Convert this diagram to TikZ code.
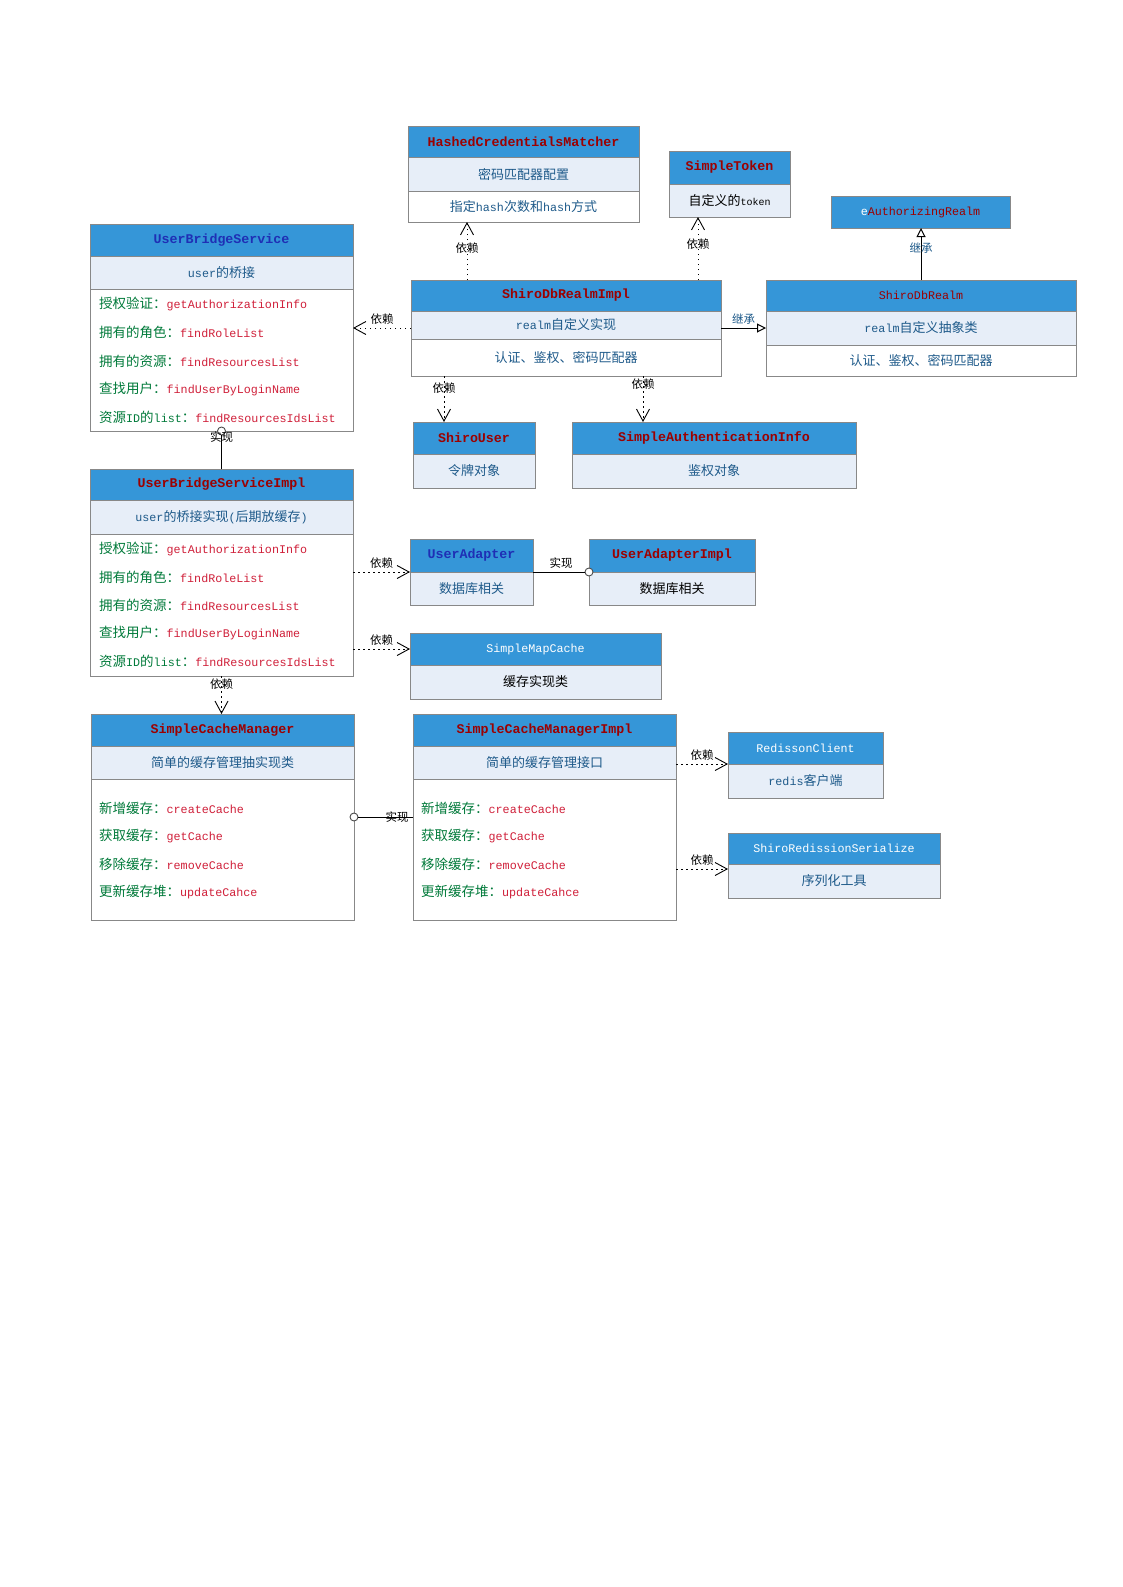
\documentclass[tikz,border=0pt]{standalone}
\usepackage{fontspec}
\setmainfont{Liberation Mono}
\newfontfamily\zhfont{Noto Sans CJK SC}
\usetikzlibrary{arrows.meta}
\definecolor{hdrblue}{HTML}{3596D8}
\definecolor{subfill}{HTML}{E7EEF8}
\definecolor{bgray}{HTML}{888888}
\definecolor{dred}{HTML}{9C0000}
\definecolor{tblue}{HTML}{1F2FB5}
\definecolor{subtext}{HTML}{1E5A8A}
\definecolor{mgreen}{HTML}{007A3A}
\definecolor{mred}{HTML}{D0203A}
\newcommand\ZH[1]{{\zhfont\fontsize{13}{15}\selectfont #1}}
\newcommand\ZM[1]{{\zhfont\fontsize{13.5}{15}\selectfont #1}}
\newcommand\ZL[1]{{\zhfont\fontsize{11.5}{13}\selectfont #1}}
\newcommand\MT[2]{{\color{mgreen}#1}{\color{mred}#2}}
\begin{document}
\begin{tikzpicture}[x=1pt,y=-1pt,
  part/.style={draw=bgray, line width=1pt, anchor=north west, inner sep=0pt, outer sep=0pt, font=\fontsize{11.7}{14}\selectfont},
  hdr/.style={part, fill=hdrblue},
  sub/.style={part, fill=subfill, text=subtext},
  bdy/.style={part, fill=white, text=subtext},
  bt/.style={font=\fontsize{13.3}{15}\selectfont\bfseries},
  meth/.style={anchor=west, inner sep=0pt, font=\fontsize{11.7}{14}\selectfont},
  lbl/.style={inner sep=1pt, text=black},
  dep/.style={draw=black, line width=0.9pt, dash pattern=on 1.5pt off 3.5pt, -{Straight Barb[length=12pt,width=13pt,line width=0.9pt]}},
  inh/.style={draw=black, line width=1pt, -{Triangle[open,length=9pt,width=9pt,fill=white]}},
  real/.style={draw=black, line width=1pt},
  ring/.style={draw=black!70, line width=0.9pt, fill=white}
]
\fill[white] (0,0) rectangle (1123,1587);
\useasboundingbox (0,0) rectangle (1123,1587);

% HashedCredentialsMatcher
\node[hdr,bt,text=dred,minimum width=231pt,minimum height=31pt] (hcm-h) at (408,126) {HashedCredentialsMatcher};
\node[sub,minimum width=231pt,minimum height=34pt] (hcm-s) at (408,157) {\ZH{密码匹配器配置}};
\node[bdy,minimum width=231pt,minimum height=31pt] (hcm-b) at (408,191) {\ZH{指定}hash\ZH{次数和}hash\ZH{方式}};

% SimpleToken
\node[hdr,bt,text=dred,minimum width=121pt,minimum height=33pt] (st-h) at (669,151) {SimpleToken};
\node[sub,text=black,minimum width=121pt,minimum height=33pt] (st-s) at (669,184) {\ZH{自定义的}{\fontsize{10}{12}\selectfont token}};

% eAuthorizingRealm
\node[hdr,text=dred,minimum width=179pt,minimum height=32pt] (ar-h) at (831,196) {{\color{white}e}AuthorizingRealm};

% UserBridgeService
\node[hdr,bt,text=tblue,minimum width=263pt,minimum height=32pt] (ubs-h) at (90,224) {UserBridgeService};
\node[sub,minimum width=263pt,minimum height=33pt] (ubs-s) at (90,256) {user\ZH{的桥接}};
\node[bdy,minimum width=263pt,minimum height=142pt] (ubs-b) at (90,289) {};
\node[meth] (ubs-m1) at (99,304) {\MT{\ZM{授权验证：}}{getAuthorizationInfo}};
\node[meth] (ubs-m2) at (99,332) {\MT{\ZM{拥有的角色：}}{findRoleList}};
\node[meth] (ubs-m3) at (99,361) {\MT{\ZM{拥有的资源：}}{findResourcesList}};
\node[meth] (ubs-m4) at (99,389) {\MT{\ZM{查找用户：}}{findUserByLoginName}};
\node[meth] (ubs-m5) at (99,417) {\MT{\ZM{资源}ID\ZM{的}list\ZM{：}}{findResourcesIdsList}};

% ShiroDbRealmImpl
\node[hdr,bt,text=dred,minimum width=310pt,minimum height=31pt] (sdri-h) at (411,280) {ShiroDbRealmImpl};
\node[sub,minimum width=310pt,minimum height=28pt] (sdri-s) at (411,311) {realm\ZH{自定义实现}};
\node[bdy,minimum width=310pt,minimum height=37pt] (sdri-b) at (411,339) {\ZH{认证、鉴权、密码匹配器}};

% ShiroDbRealm
\node[hdr,text=dred,minimum width=310pt,minimum height=31pt] (sdr-h) at (766,280) {ShiroDbRealm};
\node[sub,minimum width=310pt,minimum height=34pt] (sdr-s) at (766,311) {realm\ZH{自定义抽象类}};
\node[bdy,minimum width=310pt,minimum height=31pt] (sdr-b) at (766,345) {\ZH{认证、鉴权、密码匹配器}};

% ShiroUser
\node[hdr,bt,text=dred,minimum width=122pt,minimum height=32pt] (su-h) at (413,422) {ShiroUser};
\node[sub,minimum width=122pt,minimum height=34pt] (su-s) at (413,454) {\ZH{令牌对象}};

% SimpleAuthenticationInfo
\node[hdr,bt,text=dred,minimum width=284pt,minimum height=32pt] (sai-h) at (572,422) {SimpleAuthenticationInfo};
\node[sub,minimum width=284pt,minimum height=34pt] (sai-s) at (572,454) {\ZH{鉴权对象}};

% UserBridgeServiceImpl
\node[hdr,bt,text=dred,minimum width=263pt,minimum height=31pt] (ubsi-h) at (90,469) {UserBridgeServiceImpl};
\node[sub,minimum width=263pt,minimum height=34pt] (ubsi-s) at (90,500) {user\ZH{的桥接实现}(\ZH{后期放缓存})};
\node[bdy,minimum width=263pt,minimum height=142pt] (ubsi-b) at (90,534) {};
\node[meth] (ubsi-m1) at (99,549) {\MT{\ZM{授权验证：}}{getAuthorizationInfo}};
\node[meth] (ubsi-m2) at (99,577) {\MT{\ZM{拥有的角色：}}{findRoleList}};
\node[meth] (ubsi-m3) at (99,605) {\MT{\ZM{拥有的资源：}}{findResourcesList}};
\node[meth] (ubsi-m4) at (99,633) {\MT{\ZM{查找用户：}}{findUserByLoginName}};
\node[meth] (ubsi-m5) at (99,661) {\MT{\ZM{资源}ID\ZM{的}list\ZM{：}}{findResourcesIdsList}};

% UserAdapter
\node[hdr,bt,text=tblue,minimum width=123pt,minimum height=33pt] (ua-h) at (410,539) {UserAdapter};
\node[sub,minimum width=123pt,minimum height=33pt] (ua-s) at (410,572) {\ZH{数据库相关}};

% UserAdapterImpl
\node[hdr,bt,text=dred,minimum width=166pt,minimum height=33pt] (uai-h) at (589,539) {UserAdapterImpl};
\node[sub,text=black,minimum width=166pt,minimum height=33pt] (uai-s) at (589,572) {\ZH{数据库相关}};

% SimpleMapCache
\node[hdr,text=white,minimum width=251pt,minimum height=32pt] (smc-h) at (410,633) {SimpleMapCache};
\node[sub,text=black,minimum width=251pt,minimum height=34pt] (smc-s) at (410,665) {\ZH{缓存实现类}};

% SimpleCacheManager
\node[hdr,bt,text=dred,minimum width=263pt,minimum height=32pt] (scm-h) at (91,714) {SimpleCacheManager};
\node[sub,minimum width=263pt,minimum height=33pt] (scm-s) at (91,746) {\ZH{简单的缓存管理抽实现类}};
\node[bdy,minimum width=263pt,minimum height=141pt] (scm-b) at (91,779) {};
\node[meth] (scm-m1) at (99,808) {\MT{\ZM{新增缓存：}}{createCache}};
\node[meth] (scm-m2) at (99,836) {\MT{\ZM{获取缓存：}}{getCache}};
\node[meth] (scm-m3) at (99,864) {\MT{\ZM{移除缓存：}}{removeCache}};
\node[meth] (scm-m4) at (99,892) {\MT{\ZM{更新缓存堆：}}{updateCahce}};

% SimpleCacheManagerImpl
\node[hdr,bt,text=dred,minimum width=263pt,minimum height=32pt] (scmi-h) at (413,714) {SimpleCacheManagerImpl};
\node[sub,minimum width=263pt,minimum height=33pt] (scmi-s) at (413,746) {\ZH{简单的缓存管理接口}};
\node[bdy,minimum width=263pt,minimum height=141pt] (scmi-b) at (413,779) {};
\node[meth] (scmi-m1) at (421,808) {\MT{\ZM{新增缓存：}}{createCache}};
\node[meth] (scmi-m2) at (421,836) {\MT{\ZM{获取缓存：}}{getCache}};
\node[meth] (scmi-m3) at (421,864) {\MT{\ZM{移除缓存：}}{removeCache}};
\node[meth] (scmi-m4) at (421,892) {\MT{\ZM{更新缓存堆：}}{updateCahce}};

% RedissonClient
\node[hdr,text=white,minimum width=155pt,minimum height=32pt] (rc-h) at (728,732) {RedissonClient};
\node[sub,minimum width=155pt,minimum height=34pt] (rc-s) at (728,764) {redis\ZH{客户端}};

% ShiroRedissionSerialize
\node[hdr,text=white,minimum width=212pt,minimum height=31pt] (srs-h) at (728,833) {ShiroRedissionSerialize};
\node[sub,minimum width=212pt,minimum height=34pt] (srs-s) at (728,864) {\ZH{序列化工具}};

% ---------- connectors ----------
\coordinate (d1) at ([xshift=56pt]sdri-h.north west);
\draw[dep] (d1) -- node[lbl,pos=0.55]{\ZL{依赖}} (d1 |- hcm-b.south);
\coordinate (d2) at ([xshift=287pt]sdri-h.north west);
\draw[dep] (d2) -- node[lbl,pos=0.57]{\ZL{依赖}} (d2 |- st-s.south);
\draw[dep] (sdri-s.west |- sdr-s.west) -- node[lbl,above=2pt,midway]{\ZL{依赖}} (ubs-b.east |- sdr-s.west);
\draw[inh] (sdri-s.east |- sdr-s.west) -- node[lbl,above=2pt,midway,text=subtext]{\ZL{继承}} (sdr-s.west);
\draw[inh] (sdr-h.north) -- node[lbl,pos=0.62,text=subtext]{\ZL{继承}} (sdr-h.north |- ar-h.south);
\coordinate (d3) at ([xshift=33pt]sdri-b.south west);
\draw[dep] (d3) -- node[lbl,pos=0.26]{\ZL{依赖}} (d3 |- su-h.north);
\coordinate (d4) at ([xshift=232pt]sdri-b.south west);
\draw[dep] (d4) -- node[lbl,pos=0.17]{\ZL{依赖}} (d4 |- sai-h.north);

\draw[ring] (ubs-b.south) circle (4pt);
\draw[real,shorten >=4pt] (ubsi-h.north) -- node[lbl,pos=0.84]{\ZL{实现}} (ubs-b.south);

\draw[dep] (ubsi-b.east |- ua-h.south west) -- node[lbl,above=2pt,midway]{\ZL{依赖}} (ua-h.south west);
\draw[dep] (ubsi-b.east |- smc-h.west) -- node[lbl,above=2pt,midway]{\ZL{依赖}} (smc-h.west);
\draw[dep] (ubsi-b.south) -- node[lbl,pos=0.21]{\ZL{依赖}} (ubsi-b.south |- scm-h.north);

\draw[ring] (uai-h.south west) circle (4pt);
\draw[real,shorten >=4pt] (ua-h.south east) -- node[lbl,above=2pt,midway]{\ZL{实现}} (uai-h.south west);

\coordinate (r3) at ([yshift=-38pt]scm-b.north east);
\draw[ring] (r3) circle (4pt);
\draw[real,shorten <=4pt] (r3) -- node[lbl,pos=0.73]{\ZL{实现}} (r3 -| scmi-b.west);

\draw[dep] (scmi-s.east |- rc-h.south west) -- node[lbl,above=2pt,midway]{\ZL{依赖}} (rc-h.south west);
\coordinate (d5) at ([yshift=-5pt]srs-h.south west);
\draw[dep] (scmi-s.east |- d5) -- node[lbl,above=2pt,midway]{\ZL{依赖}} (d5);
\end{tikzpicture}
\end{document}
